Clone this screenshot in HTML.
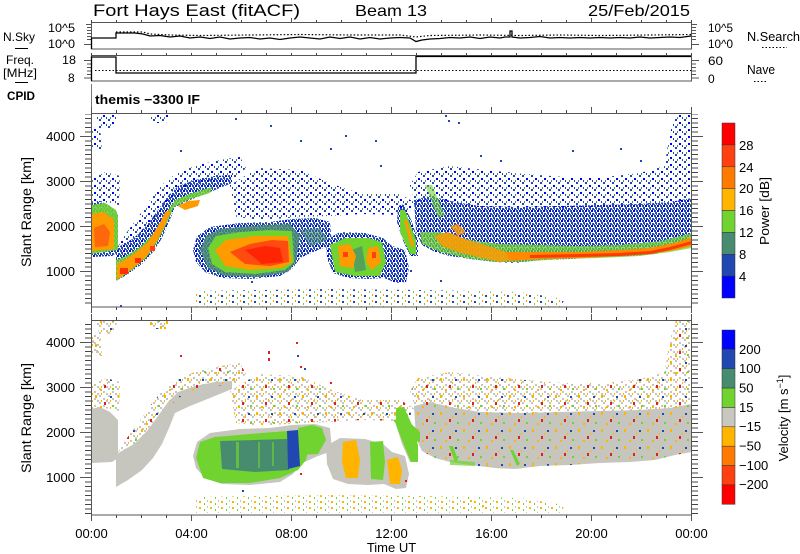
<!DOCTYPE html>
<html><head><meta charset="utf-8"><style>html,body{margin:0;padding:0;background:#fff}svg{display:block}</style></head><body>
<svg xmlns="http://www.w3.org/2000/svg" width="800" height="554" viewBox="0 0 800 554" font-family="'Liberation Sans', sans-serif">
<defs>
<pattern id="pbS" width="9" height="7" patternUnits="userSpaceOnUse">
<rect x="0" y="0" width="2" height="2" fill="#2048b0"/><rect x="4" y="3" width="2" height="2" fill="#0000ff"/><rect x="7" y="5" width="1" height="2" fill="#2048b0"/><rect x="2" y="5" width="1" height="2" fill="#488c70"/>
</pattern>
<pattern id="pbD" width="6" height="5" patternUnits="userSpaceOnUse">
<rect x="0" y="0" width="2" height="2" fill="#2048b0"/><rect x="3" y="0" width="2" height="2" fill="#0000ff"/><rect x="1" y="2" width="2" height="2" fill="#2048b0"/><rect x="4" y="3" width="2" height="2" fill="#2048b0"/><rect x="0" y="4" width="1" height="1" fill="#488c70"/><rect x="2" y="4" width="1" height="1" fill="#2048b0"/>
</pattern>
<pattern id="pgS" width="9" height="7" patternUnits="userSpaceOnUse">
<rect x="0" y="0" width="2" height="2" fill="#c6c6be"/><rect x="4" y="3" width="2" height="2" fill="#c6c6be"/><rect x="7" y="5" width="2" height="2" fill="#c6c6be"/><rect x="2" y="5" width="1" height="2" fill="#ffb400"/>
</pattern>
<pattern id="pDots" width="23" height="17" patternUnits="userSpaceOnUse">
<rect x="3" y="2" width="2" height="3" fill="#ffb400"/><rect x="12" y="9" width="2" height="3" fill="#e02020"/><rect x="18" y="3" width="2" height="2" fill="#2048b0"/><rect x="8" y="13" width="2" height="2" fill="#ffb400"/><rect x="20" y="12" width="2" height="2" fill="#70d330"/><rect x="15" y="6" width="1" height="2" fill="#ffb400"/>
</pattern>
<pattern id="pMixP" width="11" height="6" patternUnits="userSpaceOnUse">
<rect x="1" y="1" width="2" height="2" fill="#2048b0"/><rect x="6" y="3" width="1" height="2" fill="#70d330"/><rect x="9" y="0" width="1" height="2" fill="#ff9a00"/>
</pattern>
<pattern id="pMixV" width="11" height="6" patternUnits="userSpaceOnUse">
<rect x="1" y="1" width="2" height="2" fill="#ffb400"/><rect x="6" y="3" width="1" height="2" fill="#70d330"/><rect x="9" y="0" width="1" height="2" fill="#c6c6be"/>
</pattern>
<pattern id="xt" x="91" y="0" width="25" height="600" patternUnits="userSpaceOnUse"><rect x="0" y="0" width="1" height="600" fill="#444"/></pattern>
<pattern id="ytP" x="0" y="271" width="20" height="9" patternUnits="userSpaceOnUse"><rect x="0" y="0" width="20" height="1" fill="#444"/><rect x="0" y="4.5" width="20" height="1" fill="#444"/></pattern>
<pattern id="ytV" x="0" y="477" width="20" height="9" patternUnits="userSpaceOnUse"><rect x="0" y="0" width="20" height="1" fill="#444"/><rect x="0" y="4.5" width="20" height="1" fill="#444"/></pattern>
<clipPath id="cpP"><rect x="92" y="114" width="599" height="193"/></clipPath>
<clipPath id="cpV"><rect x="92" y="321" width="599" height="194"/></clipPath>
<polygon id="pE" points="414,200 430,196 455,202 480,206 520,207 560,206 600,205 640,204 670,202 692,198 692,246 675,249 655,254 630,256 600,257 570,259 540,260 515,263 495,262 470,259 450,256 435,252 422,245 416,232"/>
<polygon id="pBot" points="196,291 330,289 420,290 520,292 565,299 560,307 196,307"/>
<g id="fpS">
<polygon points="91,178 106,172 120,176 119,205 104,202 91,205"/>
<polygon points="92,128 100,126 102,150 92,150"/>
<polygon points="96,113 118,113 114,128 99,128"/>
<polygon points="150,113 170,113 166,123 152,123"/>
<polygon points="117,248 127,232 139,216 150,200 163,184 178,172 198,165 220,160 240,157 246,168 236,178 214,180 194,184 178,192 168,202 158,214 147,228 134,240 120,250"/>
<polygon points="230,185 258,168 300,170 332,184 362,194 400,194 417,204 402,215 362,214 330,216 300,217 262,220 236,217"/>
<polygon points="418,172 450,166 485,170 525,174 565,177 605,177 640,173 665,166 681,158 691,148 691,200 640,205 560,208 480,207 430,198 416,206 410,185"/>
<polygon points="664,172 667,150 671,130 676,114 691,114 691,150 680,162"/>
</g>
<g id="fpD">
<polygon points="91,203 100,201 110,206 118,214 118,252 112,256 91,257"/>
<polygon points="116,281 128,274 142,264 153,252 162,238 169,222 175,207 190,200 210,192 232,183 232,175 215,176 195,180 178,186 168,196 158,210 147,225 134,238 120,246 116,250"/>
<polygon points="193,250 197,236 210,227 240,223 270,222 292,219 315,218 330,222 332,245 318,250 300,258 293,268 280,276 250,279 222,278 205,272 196,262"/>
<polygon points="326,240 340,232 365,233 383,238 392,246 405,250 409,268 406,282 396,283 384,278 368,279 348,278 333,273 327,258"/>
<polygon points="398,206 404,204 412,222 418,240 418,256 410,256 402,238 397,222"/>
<use href="#pE"/>
</g>
</defs>
<rect width="800" height="554" fill="#fff"/>

<!-- Title -->
<text x="93" y="16" font-size="17" textLength="207" lengthAdjust="spacingAndGlyphs">Fort Hays East (fitACF)</text>
<text x="355" y="16" font-size="16" textLength="72" lengthAdjust="spacingAndGlyphs">Beam 13</text>
<text x="588" y="16" font-size="16" textLength="102" lengthAdjust="spacingAndGlyphs">25/Feb/2015</text>

<!-- Left labels top -->
<text x="3" y="41" font-size="12" textLength="32" lengthAdjust="spacingAndGlyphs">N.Sky</text>
<line x1="15" y1="48.5" x2="28" y2="48.5" stroke="#000" stroke-width="1"/>
<text x="6" y="64" font-size="12" textLength="28" lengthAdjust="spacingAndGlyphs">Freq.</text>
<text x="3" y="77" font-size="12" textLength="34" lengthAdjust="spacingAndGlyphs">[MHz]</text>
<line x1="15" y1="82.5" x2="28" y2="82.5" stroke="#000" stroke-width="1"/>
<text x="7" y="100" font-size="12" font-weight="bold" textLength="28" lengthAdjust="spacingAndGlyphs">CPID</text>
<text x="48" y="32" font-size="12" textLength="27" lengthAdjust="spacingAndGlyphs">10^5</text>
<text x="48" y="48" font-size="12" textLength="27" lengthAdjust="spacingAndGlyphs">10^0</text>
<text x="62" y="64" font-size="12" textLength="14" lengthAdjust="spacingAndGlyphs">18</text>
<text x="68" y="82" font-size="12">8</text>

<!-- Right labels top -->
<text x="708" y="32" font-size="12" textLength="25" lengthAdjust="spacingAndGlyphs">10^5</text>
<text x="708" y="48" font-size="12" textLength="25" lengthAdjust="spacingAndGlyphs">10^0</text>
<text x="708" y="65" font-size="12" textLength="15" lengthAdjust="spacingAndGlyphs">60</text>
<text x="708" y="83" font-size="12">0</text>
<text x="747" y="41" font-size="12.5" textLength="53" lengthAdjust="spacingAndGlyphs">N.Search</text>
<line x1="762" y1="47.5" x2="787" y2="47.5" stroke="#000" stroke-width="1" stroke-dasharray="1.5 2"/>
<text x="747" y="74" font-size="12.5" textLength="28" lengthAdjust="spacingAndGlyphs">Nave</text>
<line x1="754" y1="81.5" x2="767" y2="81.5" stroke="#000" stroke-width="1" stroke-dasharray="1.5 2"/>

<!-- Small panels frames -->
<rect x="91.5" y="22.5" width="600" height="26.5" fill="none" stroke="#555" stroke-width="1"/>
<rect x="91.5" y="55.5" width="600" height="25.5" fill="none" stroke="#555" stroke-width="1"/>
<rect x="91" y="20" width="601" height="2.5" fill="url(#xt)"/>
<rect x="91" y="53" width="601" height="2.5" fill="url(#xt)"/>
<path d="M86,24.5H91M87,27.5H91M87,30.5H91M87,33.5H91M87,36.5H91M87,39.5H91M84,44.5H91M692,24.5H697M692,27.5H696M692,30.5H696M692,33.5H696M692,36.5H696M692,39.5H696M692,44.5H699M84,60.5H91M87,64H91M87,67.5H91M87,71H91M87,74.5H91M84,78H91M692,60.5H699M692,64H696M692,67.5H696M692,71H696M692,74.5H696M692,78H699" stroke="#555" stroke-width="1" fill="none"/>
<!-- N.Sky data -->
<path d="M91.5,49V38H116V33H128L135,33L143,34L150,36L160,35.5L170,37L180,36L190,38L200,37L210,38.5L220,37L230,39L240,38L250,37.5L260,39L270,38L280,39.5L290,38L300,37L310,38L320,39L330,37L340,38.5L350,37L360,39L370,37.5L380,39L390,38L400,37.5L410,38L416,41.5L422,40L430,39L440,38.5L450,37.5L460,38L470,37L480,38.5L490,37L500,38L505,37L510,37L510,31L512,31L512,37L520,38L530,37.5L540,36.5L550,38L560,37.5L570,38L580,37.5L590,38L600,37.5L610,38L620,37.5L630,38L640,37L650,38L660,37.5L670,37L680,37.5L691,36" stroke="#000" stroke-width="1.3" fill="none"/>
<path d="M116,32H143L150,34L170,35L200,35.5L250,35L300,34.5L350,35L400,35L416,37L430,35.5L480,35L520,35.5L560,35L600,35.5L650,35L691,34.5" stroke="#000" stroke-width="1.2" fill="none" stroke-dasharray="1.5 2"/>
<!-- Freq data -->
<path d="M91.5,81V57H116V73H416V56.5H691" stroke="#000" stroke-width="1.3" fill="none"/>
<path d="M95,70.5H691" stroke="#000" stroke-width="1" fill="none" stroke-dasharray="1.5 2"/>
<!-- CPID -->
<line x1="91.5" y1="84" x2="91.5" y2="111" stroke="#777" stroke-width="1"/>
<text x="95" y="104" font-size="13" font-weight="bold" textLength="105" lengthAdjust="spacingAndGlyphs">themis −3300 IF</text>

<!-- POWER PANEL DATA -->
<g clip-path="url(#cpP)">
<use href="#fpS" fill="url(#pbS)"/>
<use href="#pBot" fill="url(#pMixP)"/>
<use href="#fpD" fill="url(#pbD)"/>
<!-- Region A -->
<polygon points="91,205 105,203 116,210 118,216 118,250 91,254" fill="#70d330" opacity="0.9"/>
<polygon points="92,214 104,212 114,220 114,249 92,251" fill="#ff9a00"/>
<polygon points="94,228 104,224 110,232 108,246 95,247" fill="#ff5a10" opacity="0.8"/>
<!-- Region B -->
<polygon points="116,281 132,270 147,257 158,241 167,223 174,207 190,199 210,193 212,187 192,193 175,200 163,218 153,234 140,247 126,256 116,260" fill="#70d330" opacity="0.85"/>
<polygon points="117,280 132,269 146,257 157,241 165,225 171,211 166,211 157,228 147,243 134,254 121,262 117,264" fill="#ff9a00"/>
<rect x="120" y="268" width="8" height="6" fill="#ff3000"/><rect x="135" y="258" width="6" height="5" fill="#ff3000"/><rect x="150" y="246" width="5" height="5" fill="#ff4010"/>
<polygon points="178,206 188,201 200,200 198,206 185,210" fill="#ff9a00"/>
<!-- Blob 1 -->
<polygon points="200,250 206,236 220,229 250,226 290,224 300,235 296,262 288,272 260,277 225,276 208,268" fill="#488c70" opacity="0.85"/>
<polygon points="208,248 216,236 240,232 270,230 292,231 294,262 285,270 255,274 225,272 212,264" fill="#70d330"/>
<polygon points="215,250 226,240 255,236 288,236 292,262 282,268 250,270 225,266" fill="#ff9a00"/>
<polygon points="230,252 250,244 272,240 288,241 289,262 270,266 245,264" fill="#ff4a10"/>
<polygon points="245,250 265,246 280,248 283,262 262,264" fill="#ff1a00" opacity="0.8"/>
<polygon points="300,230 320,228 328,240 310,246" fill="#488c70" opacity="0.6"/>
<!-- Blob 2 -->
<polygon points="330,245 345,238 368,238 382,242 386,262 380,276 355,276 335,272" fill="#70d330"/>
<polygon points="352,250 362,246 366,270 355,272" fill="#488c70" opacity="0.7"/>
<polygon points="338,246 350,244 356,256 353,268 340,266" fill="#ff9a00"/>
<polygon points="368,248 378,246 381,262 372,270 366,262" fill="#ff9a00"/>
<rect x="343" y="252" width="5" height="5" fill="#ff4010"/><rect x="372" y="252" width="4" height="6" fill="#ff4010"/>
<!-- Streak 12-13 -->
<polygon points="400,210 405,210 416,240 416,254 410,254 400,232" fill="#70d330"/>
<polygon points="404,220 407,220 414,245 411,247" fill="#ff9a00"/>
<!-- Region E -->
<polygon points="420,232 440,232 470,240 500,244 540,245 580,246 620,245 660,241 692,233 692,248 670,252 640,256 600,258 560,259 520,262 495,262 465,258 440,252 422,244" fill="#70d330" opacity="0.75"/>
<polygon points="434,236 448,232 468,240 488,246 506,252 512,260 500,262 478,257 458,252 442,246" fill="#ff9a00" opacity="0.85"/>
<polygon points="450,226 458,224 466,232 458,236" fill="#ff9a00" opacity="0.8"/>
<polygon points="505,252 540,252 580,252 620,250 650,248 675,243 692,237 692,246 675,250 650,254 620,256 580,258 540,259 510,261" fill="#ff8a00"/>
<polygon points="530,255 580,254 620,253 650,251 670,247 692,241 692,244 670,250 650,254 620,256 580,257 530,258" fill="#ff3a00"/>
<polygon points="425,185 432,185 445,215 438,218" fill="#70d330" opacity="0.6"/>
<!-- isolated dots -->
<g fill="#2048b0">
<rect x="180" y="150" width="2" height="2"/><rect x="235" y="118" width="2" height="2"/><rect x="270" y="125" width="2" height="2"/><rect x="300" y="140" width="2" height="2"/><rect x="330" y="148" width="2" height="2"/><rect x="345" y="135" width="2" height="2"/><rect x="375" y="140" width="2" height="2"/><rect x="380" y="165" width="2" height="2"/><rect x="445" y="115" width="2" height="2"/><rect x="448" y="120" width="2" height="2"/><rect x="458" y="122" width="2" height="2"/><rect x="480" y="155" width="2" height="2"/><rect x="500" y="160" width="2" height="2"/><rect x="572" y="150" width="2" height="2"/><rect x="620" y="148" width="2" height="2"/><rect x="640" y="160" width="2" height="2"/><rect x="402" y="275" width="2" height="2"/><rect x="410" y="270" width="2" height="2"/><rect x="440" y="280" width="2" height="2"/><rect x="251" y="281" width="2" height="2"/><rect x="120" y="305" width="2" height="2"/>
</g>
</g>

<!-- VELOCITY PANEL DATA -->
<g clip-path="url(#cpV)">
<g transform="translate(0,206)">
<use href="#fpS" fill="url(#pgS)"/>
<use href="#pBot" fill="url(#pMixV)"/>
<use href="#fpD" fill="#c6c6be"/>
<use href="#fpS" fill="url(#pDots)"/>
<use href="#pE" fill="url(#pDots)"/>
</g>
<!-- Blob 1 -->
<polygon points="196,458 200,442 215,437 250,434 287,431 304,430 310,442 306,460 298,470 280,478 250,483 220,483 203,478" fill="#70d330"/>
<polygon points="220,441 287,439 289,470 255,472 222,469" fill="#488c70"/>
<rect x="236" y="442" width="3" height="26" fill="#70d330" opacity="0.7"/><rect x="258" y="442" width="2" height="26" fill="#70d330" opacity="0.6"/><rect x="272" y="442" width="2" height="24" fill="#70d330" opacity="0.6"/>
<polygon points="287,431 298,430 300,466 288,469" fill="#2048b0"/>
<polygon points="298,428 312,425 322,428 326,440 318,454 300,455" fill="#70d330"/>
<!-- Blob 2 -->
<polygon points="343,442 356,440 360,460 358,478 346,478 342,462" fill="#ffb400"/>
<polygon points="370,442 383,441 385,462 383,480 371,479" fill="#70d330"/>
<polygon points="387,460 398,457 402,470 400,484 390,484" fill="#ffb400"/>
<polygon points="393,420 405,418 420,432 420,442 408,440" fill="#70d330"/>
<!-- Streak 12-13 -->
<polygon points="396,408 404,407 412,425 418,445 418,462 411,462 402,440 396,425" fill="#70d330"/>
<!-- Region E green streaks -->
<polygon points="449,446 453,446 458,460 455,462" fill="#70d330"/>
<polygon points="510,450 513,450 520,464 517,466" fill="#70d330"/>
<polygon points="450,460 475,462 475,466 450,465" fill="#70d330" opacity="0.7"/>
<!-- isolated dots -->
<rect x="268" y="351" width="2" height="3" fill="#e02020"/><rect x="268" y="358" width="2" height="3" fill="#e02020"/><rect x="296" y="342" width="2" height="2" fill="#e02020"/><rect x="297" y="355" width="2" height="2" fill="#2048b0"/><rect x="304" y="368" width="2" height="2" fill="#2048b0"/><rect x="180" y="355" width="2" height="2" fill="#e02020"/><rect x="150" y="322" width="2" height="3" fill="#ffb400"/><rect x="160" y="326" width="2" height="3" fill="#ffb400"/><rect x="166" y="321" width="2" height="3" fill="#ffb400"/><rect x="330" y="382" width="2" height="2" fill="#e02020"/><rect x="300" y="366" width="2" height="2" fill="#e02020"/><rect x="242" y="490" width="2" height="2" fill="#2048b0"/><rect x="92" y="340" width="2" height="3" fill="#c6c6be"/><rect x="96" y="350" width="2" height="3" fill="#c6c6be"/><rect x="300" y="473" width="2" height="2" fill="#e02020"/><rect x="405" y="480" width="2" height="2" fill="#e02020"/><rect x="470" y="500" width="2" height="2" fill="#ffb400"/><rect x="482" y="505" width="2" height="2" fill="#ffb400"/>
</g>

<!-- Panel frames -->
<rect x="91.5" y="113.5" width="600" height="193.5" fill="none" stroke="#555" stroke-width="1"/>
<rect x="91.5" y="320.5" width="600" height="194.5" fill="none" stroke="#555" stroke-width="1"/>
<!-- X ticks -->
<rect x="91" y="110" width="601" height="3" fill="url(#xt)"/>
<rect x="91" y="307" width="601" height="3" fill="url(#xt)"/>
<rect x="91" y="317" width="601" height="3" fill="url(#xt)"/>
<rect x="91" y="515" width="601" height="3" fill="url(#xt)"/>
<path d="M91.5,107V113M191.5,107V113M291.5,107V113M391.5,107V113M491.5,107V113M591.5,107V113M691.5,107V113M91.5,307V313M191.5,307V313M291.5,307V313M391.5,307V313M491.5,307V313M591.5,307V313M691.5,307V313M91.5,314V320M191.5,314V320M291.5,314V320M391.5,314V320M491.5,314V320M591.5,314V320M691.5,314V320M91.5,515V521M191.5,515V521M291.5,515V521M391.5,515V521M491.5,515V521M591.5,515V521M691.5,515V521M191.5,18V22M291.5,18V22M391.5,18V22M491.5,18V22M591.5,18V22" stroke="#555" stroke-width="1" fill="none"/>
<!-- Y ticks -->
<rect x="85" y="114" width="6" height="193" fill="url(#ytP)"/>
<rect x="692" y="114" width="6" height="193" fill="url(#ytP)"/>
<rect x="85" y="321" width="6" height="194" fill="url(#ytV)"/>
<rect x="692" y="321" width="6" height="194" fill="url(#ytV)"/>
<path d="M80,136.5H91M80,181.5H91M80,226.5H91M80,271.5H91M692,136.5H703M692,181.5H703M692,226.5H703M692,271.5H703M80,342.5H91M80,387.5H91M80,432.5H91M80,477.5H91M692,342.5H703M692,387.5H703M692,432.5H703M692,477.5H703" stroke="#555" stroke-width="1" fill="none"/>

<!-- Y labels -->
<g font-size="13" text-anchor="end">
<text x="75" y="141">4000</text><text x="75" y="186">3000</text><text x="75" y="231">2000</text><text x="75" y="276">1000</text>
<text x="75" y="347">4000</text><text x="75" y="392">3000</text><text x="75" y="437">2000</text><text x="75" y="482">1000</text>
</g>
<text transform="translate(31,212) rotate(-90)" text-anchor="middle" font-size="13.5" textLength="110" lengthAdjust="spacingAndGlyphs">Slant Range [km]</text>
<text transform="translate(31,418) rotate(-90)" text-anchor="middle" font-size="13.5" textLength="110" lengthAdjust="spacingAndGlyphs">Slant Range [km]</text>

<!-- X labels -->
<g font-size="13" text-anchor="middle">
<text x="91.5" y="538">00:00</text><text x="191.5" y="538">04:00</text><text x="291.5" y="538">08:00</text><text x="391.5" y="538">12:00</text><text x="491.5" y="538">16:00</text><text x="591.5" y="538">20:00</text><text x="691.5" y="538">00:00</text>
<text x="391.5" y="552">Time UT</text>
</g>

<!-- Power colorbar -->
<g stroke="#333" stroke-width="0.5">
<rect x="722" y="123" width="13" height="21.9" fill="#ff0000"/>
<rect x="722" y="144.9" width="13" height="21.9" fill="#ff4010"/>
<rect x="722" y="166.8" width="13" height="21.9" fill="#ff7a00"/>
<rect x="722" y="188.6" width="13" height="21.9" fill="#ffb400"/>
<rect x="722" y="210.5" width="13" height="21.9" fill="#70d330"/>
<rect x="722" y="232.4" width="13" height="21.9" fill="#488c70"/>
<rect x="722" y="254.3" width="13" height="21.9" fill="#2048b0"/>
<rect x="722" y="276.1" width="13" height="21.9" fill="#0000ff"/>
</g>
<g font-size="13">
<text x="739" y="150">28</text><text x="739" y="172">24</text><text x="739" y="193">20</text><text x="739" y="215">16</text><text x="739" y="237">12</text><text x="739" y="259">8</text><text x="739" y="281">4</text>
</g>
<text transform="translate(769,211) rotate(-90)" text-anchor="middle" font-size="13" textLength="68" lengthAdjust="spacingAndGlyphs">Power [dB]</text>

<!-- Velocity colorbar -->
<g stroke="#333" stroke-width="0.5">
<rect x="722" y="330" width="13" height="19.4" fill="#0000ff"/>
<rect x="722" y="349.4" width="13" height="19.3" fill="#2048b0"/>
<rect x="722" y="368.7" width="13" height="19.4" fill="#488c70"/>
<rect x="722" y="388.1" width="13" height="19.4" fill="#70d330"/>
<rect x="722" y="407.5" width="13" height="19.3" fill="#c8c8c0"/>
<rect x="722" y="426.8" width="13" height="19.4" fill="#ffb400"/>
<rect x="722" y="446.2" width="13" height="19.4" fill="#ff7a00"/>
<rect x="722" y="465.6" width="13" height="19.3" fill="#ff4010"/>
<rect x="722" y="484.9" width="13" height="19.4" fill="#ff0000"/>
</g>
<g font-size="13">
<text x="739" y="354">200</text><text x="739" y="373">100</text><text x="739" y="392.5">50</text><text x="739" y="412">15</text><text x="739" y="431">−15</text><text x="739" y="450.5">−50</text><text x="739" y="470">−100</text><text x="739" y="489">−200</text>
</g>
<text transform="translate(788,418) rotate(-90)" text-anchor="middle" font-size="13">Velocity [m s<tspan font-size="9" dy="-5">−1</tspan><tspan dy="5">]</tspan></text>
</svg>
</body></html>
